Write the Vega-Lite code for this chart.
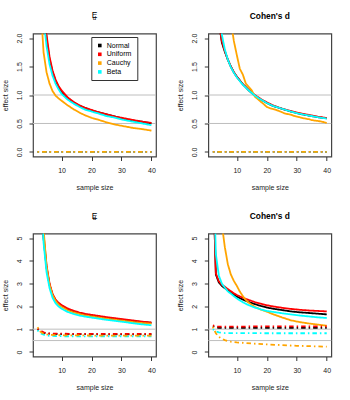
{
"$schema": "https://vega.github.io/schema/vega-lite/v6.json",
"padding": {"left": 0, "top": 10.5, "right": 0, "bottom": 0},
"background": "white",
"datasets": {
"tl": [
{"n":3,"v":3.6,"d":"Normal","t":"solid"},{"n":4,"v":2.6,"d":"Normal","t":"solid"},{"n":5,"v":1.98,"d":"Normal","t":"solid"},{"n":6,"v":1.62,"d":"Normal","t":"solid"},{"n":7,"v":1.4,"d":"Normal","t":"solid"},{"n":8,"v":1.25,"d":"Normal","t":"solid"},{"n":9,"v":1.14,"d":"Normal","t":"solid"},{"n":10,"v":1.06,"d":"Normal","t":"solid"},{"n":12,"v":0.95,"d":"Normal","t":"solid"},{"n":14,"v":0.87,"d":"Normal","t":"solid"},{"n":16,"v":0.81,"d":"Normal","t":"solid"},{"n":18,"v":0.77,"d":"Normal","t":"solid"},{"n":20,"v":0.73,"d":"Normal","t":"solid"},{"n":22,"v":0.7,"d":"Normal","t":"solid"},{"n":25,"v":0.66,"d":"Normal","t":"solid"},{"n":28,"v":0.62,"d":"Normal","t":"solid"},{"n":31,"v":0.58,"d":"Normal","t":"solid"},{"n":34,"v":0.55,"d":"Normal","t":"solid"},{"n":37,"v":0.53,"d":"Normal","t":"solid"},{"n":40,"v":0.5,"d":"Normal","t":"solid"},
{"n":3,"v":3.8,"d":"Uniform","t":"solid"},{"n":4,"v":2.75,"d":"Uniform","t":"solid"},{"n":5,"v":2.06,"d":"Uniform","t":"solid"},{"n":6,"v":1.67,"d":"Uniform","t":"solid"},{"n":7,"v":1.43,"d":"Uniform","t":"solid"},{"n":8,"v":1.27,"d":"Uniform","t":"solid"},{"n":9,"v":1.16,"d":"Uniform","t":"solid"},{"n":10,"v":1.08,"d":"Uniform","t":"solid"},{"n":12,"v":0.96,"d":"Uniform","t":"solid"},{"n":14,"v":0.88,"d":"Uniform","t":"solid"},{"n":16,"v":0.82,"d":"Uniform","t":"solid"},{"n":18,"v":0.77,"d":"Uniform","t":"solid"},{"n":20,"v":0.74,"d":"Uniform","t":"solid"},{"n":22,"v":0.7,"d":"Uniform","t":"solid"},{"n":25,"v":0.66,"d":"Uniform","t":"solid"},{"n":28,"v":0.62,"d":"Uniform","t":"solid"},{"n":31,"v":0.59,"d":"Uniform","t":"solid"},{"n":34,"v":0.56,"d":"Uniform","t":"solid"},{"n":37,"v":0.53,"d":"Uniform","t":"solid"},{"n":40,"v":0.51,"d":"Uniform","t":"solid"},
{"n":2,"v":4.0,"d":"Cauchy","t":"solid"},{"n":3,"v":2.6,"d":"Cauchy","t":"solid"},{"n":4,"v":1.75,"d":"Cauchy","t":"solid"},{"n":5,"v":1.4,"d":"Cauchy","t":"solid"},{"n":6,"v":1.2,"d":"Cauchy","t":"solid"},{"n":7,"v":1.07,"d":"Cauchy","t":"solid"},{"n":8,"v":0.99,"d":"Cauchy","t":"solid"},{"n":9,"v":0.94,"d":"Cauchy","t":"solid"},{"n":10,"v":0.9,"d":"Cauchy","t":"solid"},{"n":12,"v":0.82,"d":"Cauchy","t":"solid"},{"n":14,"v":0.75,"d":"Cauchy","t":"solid"},{"n":16,"v":0.69,"d":"Cauchy","t":"solid"},{"n":18,"v":0.64,"d":"Cauchy","t":"solid"},{"n":20,"v":0.6,"d":"Cauchy","t":"solid"},{"n":22,"v":0.57,"d":"Cauchy","t":"solid"},{"n":25,"v":0.52,"d":"Cauchy","t":"solid"},{"n":28,"v":0.48,"d":"Cauchy","t":"solid"},{"n":31,"v":0.45,"d":"Cauchy","t":"solid"},{"n":34,"v":0.42,"d":"Cauchy","t":"solid"},{"n":37,"v":0.4,"d":"Cauchy","t":"solid"},{"n":40,"v":0.375,"d":"Cauchy","t":"solid"},
{"n":3,"v":3.3,"d":"Beta","t":"solid"},{"n":4,"v":2.35,"d":"Beta","t":"solid"},{"n":5,"v":1.86,"d":"Beta","t":"solid"},{"n":6,"v":1.54,"d":"Beta","t":"solid"},{"n":7,"v":1.34,"d":"Beta","t":"solid"},{"n":8,"v":1.2,"d":"Beta","t":"solid"},{"n":9,"v":1.1,"d":"Beta","t":"solid"},{"n":10,"v":1.02,"d":"Beta","t":"solid"},{"n":12,"v":0.92,"d":"Beta","t":"solid"},{"n":14,"v":0.85,"d":"Beta","t":"solid"},{"n":16,"v":0.79,"d":"Beta","t":"solid"},{"n":18,"v":0.74,"d":"Beta","t":"solid"},{"n":20,"v":0.71,"d":"Beta","t":"solid"},{"n":22,"v":0.68,"d":"Beta","t":"solid"},{"n":25,"v":0.63,"d":"Beta","t":"solid"},{"n":28,"v":0.6,"d":"Beta","t":"solid"},{"n":31,"v":0.56,"d":"Beta","t":"solid"},{"n":34,"v":0.53,"d":"Beta","t":"solid"},{"n":37,"v":0.5,"d":"Beta","t":"solid"},{"n":40,"v":0.47,"d":"Beta","t":"solid"},
{"n":2,"v":0,"d":"Normal","t":"dashdot"},{"n":10,"v":0,"d":"Normal","t":"dashdot"},{"n":20,"v":0,"d":"Normal","t":"dashdot"},{"n":30,"v":0,"d":"Normal","t":"dashdot"},{"n":40,"v":0,"d":"Normal","t":"dashdot"},
{"n":2,"v":0,"d":"Uniform","t":"dashdot"},{"n":10,"v":0,"d":"Uniform","t":"dashdot"},{"n":20,"v":0,"d":"Uniform","t":"dashdot"},{"n":30,"v":0,"d":"Uniform","t":"dashdot"},{"n":40,"v":0,"d":"Uniform","t":"dashdot"},
{"n":2,"v":0,"d":"Beta","t":"dashdot"},{"n":10,"v":0,"d":"Beta","t":"dashdot"},{"n":20,"v":0,"d":"Beta","t":"dashdot"},{"n":30,"v":0,"d":"Beta","t":"dashdot"},{"n":40,"v":0,"d":"Beta","t":"dashdot"},
{"n":2,"v":0,"d":"Cauchy","t":"dashdot"},{"n":10,"v":0,"d":"Cauchy","t":"dashdot"},{"n":20,"v":0,"d":"Cauchy","t":"dashdot"},{"n":30,"v":0,"d":"Cauchy","t":"dashdot"},{"n":40,"v":0,"d":"Cauchy","t":"dashdot"}
],
"tr": [
{"n":3,"v":3.2,"d":"Normal","t":"solid"},{"n":4,"v":2.3,"d":"Normal","t":"solid"},{"n":5,"v":1.92,"d":"Normal","t":"solid"},{"n":6,"v":1.76,"d":"Normal","t":"solid"},{"n":7,"v":1.62,"d":"Normal","t":"solid"},{"n":8,"v":1.5,"d":"Normal","t":"solid"},{"n":9,"v":1.4,"d":"Normal","t":"solid"},{"n":10,"v":1.32,"d":"Normal","t":"solid"},{"n":12,"v":1.19,"d":"Normal","t":"solid"},{"n":14,"v":1.08,"d":"Normal","t":"solid"},{"n":16,"v":0.99,"d":"Normal","t":"solid"},{"n":18,"v":0.92,"d":"Normal","t":"solid"},{"n":20,"v":0.86,"d":"Normal","t":"solid"},{"n":22,"v":0.81,"d":"Normal","t":"solid"},{"n":25,"v":0.76,"d":"Normal","t":"solid"},{"n":28,"v":0.71,"d":"Normal","t":"solid"},{"n":31,"v":0.67,"d":"Normal","t":"solid"},{"n":34,"v":0.64,"d":"Normal","t":"solid"},{"n":37,"v":0.61,"d":"Normal","t":"solid"},{"n":40,"v":0.59,"d":"Normal","t":"solid"},
{"n":3,"v":3.0,"d":"Uniform","t":"solid"},{"n":4,"v":2.25,"d":"Uniform","t":"solid"},{"n":5,"v":1.95,"d":"Uniform","t":"solid"},{"n":6,"v":1.77,"d":"Uniform","t":"solid"},{"n":7,"v":1.62,"d":"Uniform","t":"solid"},{"n":8,"v":1.5,"d":"Uniform","t":"solid"},{"n":9,"v":1.4,"d":"Uniform","t":"solid"},{"n":10,"v":1.32,"d":"Uniform","t":"solid"},{"n":12,"v":1.19,"d":"Uniform","t":"solid"},{"n":14,"v":1.09,"d":"Uniform","t":"solid"},{"n":16,"v":1.0,"d":"Uniform","t":"solid"},{"n":18,"v":0.93,"d":"Uniform","t":"solid"},{"n":20,"v":0.87,"d":"Uniform","t":"solid"},{"n":22,"v":0.82,"d":"Uniform","t":"solid"},{"n":25,"v":0.76,"d":"Uniform","t":"solid"},{"n":28,"v":0.72,"d":"Uniform","t":"solid"},{"n":31,"v":0.68,"d":"Uniform","t":"solid"},{"n":34,"v":0.65,"d":"Uniform","t":"solid"},{"n":37,"v":0.62,"d":"Uniform","t":"solid"},{"n":40,"v":0.595,"d":"Uniform","t":"solid"},
{"n":6,"v":3.5,"d":"Cauchy","t":"solid"},{"n":7,"v":2.8,"d":"Cauchy","t":"solid"},{"n":8,"v":2.3,"d":"Cauchy","t":"solid"},{"n":9,"v":1.95,"d":"Cauchy","t":"solid"},{"n":10,"v":1.7,"d":"Cauchy","t":"solid"},{"n":11,"v":1.46,"d":"Cauchy","t":"solid"},{"n":12,"v":1.36,"d":"Cauchy","t":"solid"},{"n":13,"v":1.2,"d":"Cauchy","t":"solid"},{"n":14,"v":1.14,"d":"Cauchy","t":"solid"},{"n":15,"v":1.08,"d":"Cauchy","t":"solid"},{"n":16,"v":0.97,"d":"Cauchy","t":"solid"},{"n":17,"v":0.93,"d":"Cauchy","t":"solid"},{"n":18,"v":0.88,"d":"Cauchy","t":"solid"},{"n":19,"v":0.84,"d":"Cauchy","t":"solid"},{"n":20,"v":0.79,"d":"Cauchy","t":"solid"},{"n":21,"v":0.77,"d":"Cauchy","t":"solid"},{"n":22,"v":0.755,"d":"Cauchy","t":"solid"},{"n":23,"v":0.74,"d":"Cauchy","t":"solid"},{"n":24,"v":0.72,"d":"Cauchy","t":"solid"},{"n":25,"v":0.7,"d":"Cauchy","t":"solid"},{"n":26,"v":0.675,"d":"Cauchy","t":"solid"},{"n":27,"v":0.665,"d":"Cauchy","t":"solid"},{"n":28,"v":0.655,"d":"Cauchy","t":"solid"},{"n":29,"v":0.635,"d":"Cauchy","t":"solid"},{"n":30,"v":0.62,"d":"Cauchy","t":"solid"},{"n":31,"v":0.61,"d":"Cauchy","t":"solid"},{"n":32,"v":0.595,"d":"Cauchy","t":"solid"},{"n":33,"v":0.585,"d":"Cauchy","t":"solid"},{"n":34,"v":0.575,"d":"Cauchy","t":"solid"},{"n":35,"v":0.56,"d":"Cauchy","t":"solid"},{"n":36,"v":0.55,"d":"Cauchy","t":"solid"},{"n":37,"v":0.545,"d":"Cauchy","t":"solid"},{"n":38,"v":0.535,"d":"Cauchy","t":"solid"},{"n":39,"v":0.525,"d":"Cauchy","t":"solid"},{"n":40,"v":0.51,"d":"Cauchy","t":"solid"},
{"n":3,"v":3.6,"d":"Beta","t":"solid"},{"n":4,"v":2.6,"d":"Beta","t":"solid"},{"n":5,"v":2.06,"d":"Beta","t":"solid"},{"n":6,"v":1.8,"d":"Beta","t":"solid"},{"n":7,"v":1.62,"d":"Beta","t":"solid"},{"n":8,"v":1.49,"d":"Beta","t":"solid"},{"n":9,"v":1.39,"d":"Beta","t":"solid"},{"n":10,"v":1.31,"d":"Beta","t":"solid"},{"n":12,"v":1.18,"d":"Beta","t":"solid"},{"n":14,"v":1.08,"d":"Beta","t":"solid"},{"n":16,"v":0.99,"d":"Beta","t":"solid"},{"n":18,"v":0.92,"d":"Beta","t":"solid"},{"n":20,"v":0.86,"d":"Beta","t":"solid"},{"n":22,"v":0.81,"d":"Beta","t":"solid"},{"n":25,"v":0.76,"d":"Beta","t":"solid"},{"n":28,"v":0.71,"d":"Beta","t":"solid"},{"n":31,"v":0.67,"d":"Beta","t":"solid"},{"n":34,"v":0.64,"d":"Beta","t":"solid"},{"n":37,"v":0.61,"d":"Beta","t":"solid"},{"n":40,"v":0.585,"d":"Beta","t":"solid"},
{"n":2,"v":0,"d":"Normal","t":"dashdot"},{"n":10,"v":0,"d":"Normal","t":"dashdot"},{"n":20,"v":0,"d":"Normal","t":"dashdot"},{"n":30,"v":0,"d":"Normal","t":"dashdot"},{"n":40,"v":0,"d":"Normal","t":"dashdot"},
{"n":2,"v":0,"d":"Uniform","t":"dashdot"},{"n":10,"v":0,"d":"Uniform","t":"dashdot"},{"n":20,"v":0,"d":"Uniform","t":"dashdot"},{"n":30,"v":0,"d":"Uniform","t":"dashdot"},{"n":40,"v":0,"d":"Uniform","t":"dashdot"},
{"n":2,"v":0,"d":"Beta","t":"dashdot"},{"n":10,"v":0,"d":"Beta","t":"dashdot"},{"n":20,"v":0,"d":"Beta","t":"dashdot"},{"n":30,"v":0,"d":"Beta","t":"dashdot"},{"n":40,"v":0,"d":"Beta","t":"dashdot"},
{"n":2,"v":0,"d":"Cauchy","t":"dashdot"},{"n":10,"v":0,"d":"Cauchy","t":"dashdot"},{"n":20,"v":0,"d":"Cauchy","t":"dashdot"},{"n":30,"v":0,"d":"Cauchy","t":"dashdot"},{"n":40,"v":0,"d":"Cauchy","t":"dashdot"}
],
"bl": [
{"n":3,"v":8.0,"d":"Normal","t":"solid"},{"n":4,"v":5.0,"d":"Normal","t":"solid"},{"n":5,"v":3.7,"d":"Normal","t":"solid"},{"n":6,"v":2.95,"d":"Normal","t":"solid"},{"n":7,"v":2.5,"d":"Normal","t":"solid"},{"n":8,"v":2.27,"d":"Normal","t":"solid"},{"n":9,"v":2.13,"d":"Normal","t":"solid"},{"n":10,"v":2.03,"d":"Normal","t":"solid"},{"n":12,"v":1.88,"d":"Normal","t":"solid"},{"n":14,"v":1.78,"d":"Normal","t":"solid"},{"n":16,"v":1.7,"d":"Normal","t":"solid"},{"n":18,"v":1.64,"d":"Normal","t":"solid"},{"n":20,"v":1.6,"d":"Normal","t":"solid"},{"n":22,"v":1.56,"d":"Normal","t":"solid"},{"n":25,"v":1.5,"d":"Normal","t":"solid"},{"n":28,"v":1.45,"d":"Normal","t":"solid"},{"n":31,"v":1.4,"d":"Normal","t":"solid"},{"n":34,"v":1.35,"d":"Normal","t":"solid"},{"n":37,"v":1.31,"d":"Normal","t":"solid"},{"n":40,"v":1.28,"d":"Normal","t":"solid"},
{"n":3,"v":8.3,"d":"Uniform","t":"solid"},{"n":4,"v":5.2,"d":"Uniform","t":"solid"},{"n":5,"v":3.8,"d":"Uniform","t":"solid"},{"n":6,"v":3.0,"d":"Uniform","t":"solid"},{"n":7,"v":2.55,"d":"Uniform","t":"solid"},{"n":8,"v":2.3,"d":"Uniform","t":"solid"},{"n":9,"v":2.16,"d":"Uniform","t":"solid"},{"n":10,"v":2.06,"d":"Uniform","t":"solid"},{"n":12,"v":1.91,"d":"Uniform","t":"solid"},{"n":14,"v":1.81,"d":"Uniform","t":"solid"},{"n":16,"v":1.73,"d":"Uniform","t":"solid"},{"n":18,"v":1.67,"d":"Uniform","t":"solid"},{"n":20,"v":1.63,"d":"Uniform","t":"solid"},{"n":22,"v":1.59,"d":"Uniform","t":"solid"},{"n":25,"v":1.53,"d":"Uniform","t":"solid"},{"n":28,"v":1.48,"d":"Uniform","t":"solid"},{"n":31,"v":1.43,"d":"Uniform","t":"solid"},{"n":34,"v":1.38,"d":"Uniform","t":"solid"},{"n":37,"v":1.33,"d":"Uniform","t":"solid"},{"n":40,"v":1.29,"d":"Uniform","t":"solid"},
{"n":3,"v":9.0,"d":"Cauchy","t":"solid"},{"n":4,"v":5.4,"d":"Cauchy","t":"solid"},{"n":5,"v":3.75,"d":"Cauchy","t":"solid"},{"n":6,"v":2.95,"d":"Cauchy","t":"solid"},{"n":7,"v":2.5,"d":"Cauchy","t":"solid"},{"n":8,"v":2.24,"d":"Cauchy","t":"solid"},{"n":9,"v":2.08,"d":"Cauchy","t":"solid"},{"n":10,"v":1.98,"d":"Cauchy","t":"solid"},{"n":12,"v":1.83,"d":"Cauchy","t":"solid"},{"n":14,"v":1.73,"d":"Cauchy","t":"solid"},{"n":16,"v":1.66,"d":"Cauchy","t":"solid"},{"n":18,"v":1.6,"d":"Cauchy","t":"solid"},{"n":20,"v":1.56,"d":"Cauchy","t":"solid"},{"n":22,"v":1.52,"d":"Cauchy","t":"solid"},{"n":25,"v":1.46,"d":"Cauchy","t":"solid"},{"n":28,"v":1.41,"d":"Cauchy","t":"solid"},{"n":31,"v":1.36,"d":"Cauchy","t":"solid"},{"n":34,"v":1.31,"d":"Cauchy","t":"solid"},{"n":37,"v":1.27,"d":"Cauchy","t":"solid"},{"n":40,"v":1.24,"d":"Cauchy","t":"solid"},
{"n":3,"v":7.6,"d":"Beta","t":"solid"},{"n":4,"v":4.8,"d":"Beta","t":"solid"},{"n":5,"v":3.5,"d":"Beta","t":"solid"},{"n":6,"v":2.8,"d":"Beta","t":"solid"},{"n":7,"v":2.38,"d":"Beta","t":"solid"},{"n":8,"v":2.14,"d":"Beta","t":"solid"},{"n":9,"v":2.0,"d":"Beta","t":"solid"},{"n":10,"v":1.9,"d":"Beta","t":"solid"},{"n":12,"v":1.76,"d":"Beta","t":"solid"},{"n":14,"v":1.67,"d":"Beta","t":"solid"},{"n":16,"v":1.6,"d":"Beta","t":"solid"},{"n":18,"v":1.55,"d":"Beta","t":"solid"},{"n":20,"v":1.51,"d":"Beta","t":"solid"},{"n":22,"v":1.47,"d":"Beta","t":"solid"},{"n":25,"v":1.41,"d":"Beta","t":"solid"},{"n":28,"v":1.36,"d":"Beta","t":"solid"},{"n":31,"v":1.31,"d":"Beta","t":"solid"},{"n":34,"v":1.26,"d":"Beta","t":"solid"},{"n":37,"v":1.21,"d":"Beta","t":"solid"},{"n":40,"v":1.17,"d":"Beta","t":"solid"},
{"n":2,"v":1.0,"d":"Normal","t":"dashdot"},{"n":3,"v":0.9,"d":"Normal","t":"dashdot"},{"n":4,"v":0.84,"d":"Normal","t":"dashdot"},{"n":5,"v":0.81,"d":"Normal","t":"dashdot"},{"n":6,"v":0.8,"d":"Normal","t":"dashdot"},{"n":8,"v":0.79,"d":"Normal","t":"dashdot"},{"n":10,"v":0.78,"d":"Normal","t":"dashdot"},{"n":15,"v":0.78,"d":"Normal","t":"dashdot"},{"n":20,"v":0.78,"d":"Normal","t":"dashdot"},{"n":25,"v":0.77,"d":"Normal","t":"dashdot"},{"n":30,"v":0.77,"d":"Normal","t":"dashdot"},{"n":35,"v":0.77,"d":"Normal","t":"dashdot"},{"n":40,"v":0.77,"d":"Normal","t":"dashdot"},
{"n":2,"v":1.02,"d":"Uniform","t":"dashdot"},{"n":3,"v":0.93,"d":"Uniform","t":"dashdot"},{"n":4,"v":0.86,"d":"Uniform","t":"dashdot"},{"n":5,"v":0.83,"d":"Uniform","t":"dashdot"},{"n":6,"v":0.81,"d":"Uniform","t":"dashdot"},{"n":8,"v":0.8,"d":"Uniform","t":"dashdot"},{"n":10,"v":0.8,"d":"Uniform","t":"dashdot"},{"n":15,"v":0.79,"d":"Uniform","t":"dashdot"},{"n":20,"v":0.79,"d":"Uniform","t":"dashdot"},{"n":25,"v":0.79,"d":"Uniform","t":"dashdot"},{"n":30,"v":0.79,"d":"Uniform","t":"dashdot"},{"n":35,"v":0.79,"d":"Uniform","t":"dashdot"},{"n":40,"v":0.79,"d":"Uniform","t":"dashdot"},
{"n":2,"v":0.95,"d":"Beta","t":"dashdot"},{"n":3,"v":0.82,"d":"Beta","t":"dashdot"},{"n":4,"v":0.76,"d":"Beta","t":"dashdot"},{"n":5,"v":0.73,"d":"Beta","t":"dashdot"},{"n":6,"v":0.71,"d":"Beta","t":"dashdot"},{"n":8,"v":0.7,"d":"Beta","t":"dashdot"},{"n":10,"v":0.69,"d":"Beta","t":"dashdot"},{"n":15,"v":0.69,"d":"Beta","t":"dashdot"},{"n":20,"v":0.68,"d":"Beta","t":"dashdot"},{"n":25,"v":0.68,"d":"Beta","t":"dashdot"},{"n":30,"v":0.68,"d":"Beta","t":"dashdot"},{"n":35,"v":0.68,"d":"Beta","t":"dashdot"},{"n":40,"v":0.68,"d":"Beta","t":"dashdot"},
{"n":2,"v":1.08,"d":"Cauchy","t":"dashdot"},{"n":3,"v":0.88,"d":"Cauchy","t":"dashdot"},{"n":4,"v":0.8,"d":"Cauchy","t":"dashdot"},{"n":5,"v":0.77,"d":"Cauchy","t":"dashdot"},{"n":6,"v":0.75,"d":"Cauchy","t":"dashdot"},{"n":8,"v":0.74,"d":"Cauchy","t":"dashdot"},{"n":10,"v":0.73,"d":"Cauchy","t":"dashdot"},{"n":15,"v":0.73,"d":"Cauchy","t":"dashdot"},{"n":20,"v":0.72,"d":"Cauchy","t":"dashdot"},{"n":25,"v":0.72,"d":"Cauchy","t":"dashdot"},{"n":30,"v":0.72,"d":"Cauchy","t":"dashdot"},{"n":35,"v":0.72,"d":"Cauchy","t":"dashdot"},{"n":40,"v":0.72,"d":"Cauchy","t":"dashdot"}
],
"br": [
{"n":2,"v":8.0,"d":"Normal","t":"solid"},{"n":3,"v":3.4,"d":"Normal","t":"solid"},{"n":4,"v":3.05,"d":"Normal","t":"solid"},{"n":5,"v":2.9,"d":"Normal","t":"solid"},{"n":6,"v":2.8,"d":"Normal","t":"solid"},{"n":7,"v":2.7,"d":"Normal","t":"solid"},{"n":8,"v":2.6,"d":"Normal","t":"solid"},{"n":9,"v":2.51,"d":"Normal","t":"solid"},{"n":10,"v":2.43,"d":"Normal","t":"solid"},{"n":12,"v":2.3,"d":"Normal","t":"solid"},{"n":14,"v":2.19,"d":"Normal","t":"solid"},{"n":16,"v":2.1,"d":"Normal","t":"solid"},{"n":18,"v":2.02,"d":"Normal","t":"solid"},{"n":20,"v":1.95,"d":"Normal","t":"solid"},{"n":22,"v":1.9,"d":"Normal","t":"solid"},{"n":25,"v":1.84,"d":"Normal","t":"solid"},{"n":28,"v":1.78,"d":"Normal","t":"solid"},{"n":31,"v":1.74,"d":"Normal","t":"solid"},{"n":34,"v":1.71,"d":"Normal","t":"solid"},{"n":37,"v":1.68,"d":"Normal","t":"solid"},{"n":40,"v":1.65,"d":"Normal","t":"solid"},
{"n":2,"v":8.0,"d":"Uniform","t":"solid"},{"n":3,"v":3.45,"d":"Uniform","t":"solid"},{"n":4,"v":3.1,"d":"Uniform","t":"solid"},{"n":5,"v":2.95,"d":"Uniform","t":"solid"},{"n":6,"v":2.86,"d":"Uniform","t":"solid"},{"n":7,"v":2.76,"d":"Uniform","t":"solid"},{"n":8,"v":2.67,"d":"Uniform","t":"solid"},{"n":9,"v":2.58,"d":"Uniform","t":"solid"},{"n":10,"v":2.5,"d":"Uniform","t":"solid"},{"n":12,"v":2.38,"d":"Uniform","t":"solid"},{"n":14,"v":2.28,"d":"Uniform","t":"solid"},{"n":16,"v":2.19,"d":"Uniform","t":"solid"},{"n":18,"v":2.12,"d":"Uniform","t":"solid"},{"n":20,"v":2.05,"d":"Uniform","t":"solid"},{"n":22,"v":2.0,"d":"Uniform","t":"solid"},{"n":25,"v":1.94,"d":"Uniform","t":"solid"},{"n":28,"v":1.89,"d":"Uniform","t":"solid"},{"n":31,"v":1.85,"d":"Uniform","t":"solid"},{"n":34,"v":1.82,"d":"Uniform","t":"solid"},{"n":37,"v":1.8,"d":"Uniform","t":"solid"},{"n":40,"v":1.78,"d":"Uniform","t":"solid"},
{"n":4,"v":7.5,"d":"Cauchy","t":"solid"},{"n":5,"v":5.6,"d":"Cauchy","t":"solid"},{"n":6,"v":4.6,"d":"Cauchy","t":"solid"},{"n":7,"v":3.85,"d":"Cauchy","t":"solid"},{"n":8,"v":3.4,"d":"Cauchy","t":"solid"},{"n":9,"v":3.12,"d":"Cauchy","t":"solid"},{"n":10,"v":2.9,"d":"Cauchy","t":"solid"},{"n":11,"v":2.65,"d":"Cauchy","t":"solid"},{"n":12,"v":2.45,"d":"Cauchy","t":"solid"},{"n":13,"v":2.28,"d":"Cauchy","t":"solid"},{"n":14,"v":2.16,"d":"Cauchy","t":"solid"},{"n":16,"v":1.98,"d":"Cauchy","t":"solid"},{"n":18,"v":1.86,"d":"Cauchy","t":"solid"},{"n":20,"v":1.77,"d":"Cauchy","t":"solid"},{"n":22,"v":1.66,"d":"Cauchy","t":"solid"},{"n":25,"v":1.52,"d":"Cauchy","t":"solid"},{"n":28,"v":1.39,"d":"Cauchy","t":"solid"},{"n":31,"v":1.31,"d":"Cauchy","t":"solid"},{"n":34,"v":1.25,"d":"Cauchy","t":"solid"},{"n":37,"v":1.2,"d":"Cauchy","t":"solid"},{"n":40,"v":1.15,"d":"Cauchy","t":"solid"},
{"n":2,"v":9.0,"d":"Beta","t":"solid"},{"n":3,"v":4.3,"d":"Beta","t":"solid"},{"n":4,"v":3.35,"d":"Beta","t":"solid"},{"n":5,"v":3.0,"d":"Beta","t":"solid"},{"n":6,"v":2.82,"d":"Beta","t":"solid"},{"n":7,"v":2.66,"d":"Beta","t":"solid"},{"n":8,"v":2.56,"d":"Beta","t":"solid"},{"n":9,"v":2.45,"d":"Beta","t":"solid"},{"n":10,"v":2.35,"d":"Beta","t":"solid"},{"n":12,"v":2.18,"d":"Beta","t":"solid"},{"n":14,"v":2.05,"d":"Beta","t":"solid"},{"n":16,"v":1.95,"d":"Beta","t":"solid"},{"n":18,"v":1.87,"d":"Beta","t":"solid"},{"n":20,"v":1.8,"d":"Beta","t":"solid"},{"n":22,"v":1.76,"d":"Beta","t":"solid"},{"n":25,"v":1.7,"d":"Beta","t":"solid"},{"n":28,"v":1.65,"d":"Beta","t":"solid"},{"n":31,"v":1.6,"d":"Beta","t":"solid"},{"n":34,"v":1.56,"d":"Beta","t":"solid"},{"n":37,"v":1.52,"d":"Beta","t":"solid"},{"n":40,"v":1.49,"d":"Beta","t":"solid"},
{"n":2,"v":1.12,"d":"Normal","t":"dashdot"},{"n":3,"v":1.07,"d":"Normal","t":"dashdot"},{"n":4,"v":1.06,"d":"Normal","t":"dashdot"},{"n":6,"v":1.06,"d":"Normal","t":"dashdot"},{"n":10,"v":1.06,"d":"Normal","t":"dashdot"},{"n":15,"v":1.06,"d":"Normal","t":"dashdot"},{"n":20,"v":1.06,"d":"Normal","t":"dashdot"},{"n":25,"v":1.06,"d":"Normal","t":"dashdot"},{"n":30,"v":1.06,"d":"Normal","t":"dashdot"},{"n":35,"v":1.06,"d":"Normal","t":"dashdot"},{"n":40,"v":1.06,"d":"Normal","t":"dashdot"},
{"n":2,"v":1.17,"d":"Uniform","t":"dashdot"},{"n":3,"v":1.12,"d":"Uniform","t":"dashdot"},{"n":4,"v":1.11,"d":"Uniform","t":"dashdot"},{"n":6,"v":1.11,"d":"Uniform","t":"dashdot"},{"n":10,"v":1.11,"d":"Uniform","t":"dashdot"},{"n":15,"v":1.12,"d":"Uniform","t":"dashdot"},{"n":20,"v":1.12,"d":"Uniform","t":"dashdot"},{"n":25,"v":1.12,"d":"Uniform","t":"dashdot"},{"n":30,"v":1.12,"d":"Uniform","t":"dashdot"},{"n":35,"v":1.12,"d":"Uniform","t":"dashdot"},{"n":40,"v":1.12,"d":"Uniform","t":"dashdot"},
{"n":2,"v":1.0,"d":"Beta","t":"dashdot"},{"n":3,"v":0.9,"d":"Beta","t":"dashdot"},{"n":4,"v":0.86,"d":"Beta","t":"dashdot"},{"n":5,"v":0.84,"d":"Beta","t":"dashdot"},{"n":6,"v":0.83,"d":"Beta","t":"dashdot"},{"n":10,"v":0.83,"d":"Beta","t":"dashdot"},{"n":15,"v":0.83,"d":"Beta","t":"dashdot"},{"n":20,"v":0.82,"d":"Beta","t":"dashdot"},{"n":25,"v":0.82,"d":"Beta","t":"dashdot"},{"n":30,"v":0.82,"d":"Beta","t":"dashdot"},{"n":35,"v":0.82,"d":"Beta","t":"dashdot"},{"n":40,"v":0.82,"d":"Beta","t":"dashdot"},
{"n":2,"v":1.1,"d":"Cauchy","t":"dashdot"},{"n":3,"v":0.82,"d":"Cauchy","t":"dashdot"},{"n":4,"v":0.66,"d":"Cauchy","t":"dashdot"},{"n":5,"v":0.58,"d":"Cauchy","t":"dashdot"},{"n":6,"v":0.52,"d":"Cauchy","t":"dashdot"},{"n":7,"v":0.48,"d":"Cauchy","t":"dashdot"},{"n":8,"v":0.45,"d":"Cauchy","t":"dashdot"},{"n":10,"v":0.42,"d":"Cauchy","t":"dashdot"},{"n":12,"v":0.4,"d":"Cauchy","t":"dashdot"},{"n":15,"v":0.37,"d":"Cauchy","t":"dashdot"},{"n":20,"v":0.33,"d":"Cauchy","t":"dashdot"},{"n":25,"v":0.3,"d":"Cauchy","t":"dashdot"},{"n":30,"v":0.27,"d":"Cauchy","t":"dashdot"},{"n":35,"v":0.25,"d":"Cauchy","t":"dashdot"},{"n":40,"v":0.23,"d":"Cauchy","t":"dashdot"}
],
"refs": [{"h":1},{"h":0.5}]
},
"columns": 2,
"spacing": {"column": 52.3, "row": 77},
"bounds": "flush",
"resolve": {"legend": {"color": "independent"}},
"concat": [
{
"width": 123, "height": 123,
"title": {"text": "E\u00a0", "subtitle": "\u00a0\u00a0\u00a0\u00a0d", "font": "Liberation Sans", "fontSize": 8.4, "fontWeight": "normal", "subtitleFont": "Liberation Sans", "subtitleFontSize": 6, "subtitleColor": "black", "subtitlePadding": -5, "offset": 12.5},
"layer": [
{"data": {"name": "refs"}, "mark": {"type": "rule", "color": "#BEBEBE", "strokeWidth": 1},
 "encoding": {"y": {"field": "h", "type": "quantitative", "scale": {"domain": [-0.08, 2.08], "nice": false, "zero": false}, "axis": {"values": [0, 0.5, 1, 1.5, 2], "format": ".1f", "title": "effect size"}}}},
{"data": {"name": "tl"}, "mark": {"type": "line", "clip": true, "strokeWidth": 1.8},
 "encoding": {
  "x": {"field": "n", "type": "quantitative", "scale": {"domain": [0.48, 41.52], "nice": false, "zero": false}, "axis": {"values": [10, 20, 30, 40], "title": "sample size"}},
  "y": {"field": "v", "type": "quantitative", "scale": {"domain": [-0.08, 2.08], "nice": false, "zero": false}, "axis": {"values": [0, 0.5, 1, 1.5, 2], "format": ".1f", "title": "effect size"}},
  "color": {"field": "d", "type": "nominal", "scale": {"domain": ["Normal", "Uniform", "Cauchy", "Beta"], "range": ["#000000", "#FF0000", "#FFA500", "#00FFFF"]},
   "legend": {"orient": "none", "legendX": 58.3, "legendY": 3.5, "title": null, "labelFontSize": 7, "labelFont": "Liberation Sans", "labelColor": "black", "rowPadding": 0.8, "padding": 5, "labelOffset": 3.5, "strokeColor": "#333", "fillColor": "white",
    "encode": {"symbols": {"update": {"shape": {"value": "square"}, "size": {"value": 13}, "fill": {"scale": "color", "field": "value"}, "stroke": {"value": "transparent"}, "strokeWidth": {"value": 0}, "strokeDash": {"value": [1, 0]}, "opacity": {"value": 1}}}}}},
  "strokeDash": {"field": "t", "type": "nominal", "scale": {"domain": ["solid", "dashdot"], "range": [[1, 0], [1.5, 3, 4.5, 3]]}, "legend": null}
 }}
]
},
{
"width": 123, "height": 123,
"title": {"text": "Cohen's d", "font": "Liberation Sans", "fontSize": 8.4, "fontWeight": "bold", "offset": 12.8},
"layer": [
{"data": {"name": "refs"}, "mark": {"type": "rule", "color": "#BEBEBE", "strokeWidth": 1},
 "encoding": {"y": {"field": "h", "type": "quantitative", "scale": {"domain": [-0.08, 2.08], "nice": false, "zero": false}, "axis": {"values": [0, 0.5, 1, 1.5, 2], "format": ".1f", "title": "effect size"}}}},
{"data": {"name": "tr"}, "mark": {"type": "line", "clip": true, "strokeWidth": 1.8},
 "encoding": {
  "x": {"field": "n", "type": "quantitative", "scale": {"domain": [0.48, 41.52], "nice": false, "zero": false}, "axis": {"values": [10, 20, 30, 40], "title": "sample size"}},
  "y": {"field": "v", "type": "quantitative", "scale": {"domain": [-0.08, 2.08], "nice": false, "zero": false}, "axis": {"values": [0, 0.5, 1, 1.5, 2], "format": ".1f", "title": "effect size"}},
  "color": {"field": "d", "type": "nominal", "scale": {"domain": ["Normal", "Uniform", "Cauchy", "Beta"], "range": ["#000000", "#FF0000", "#FFA500", "#00FFFF"]}, "legend": null},
  "strokeDash": {"field": "t", "type": "nominal", "scale": {"domain": ["solid", "dashdot"], "range": [[1, 0], [1.5, 3, 4.5, 3]]}, "legend": null}
 }}
]
},
{
"width": 123, "height": 123,
"title": {"text": "E\u00a0", "subtitle": "\u00a0\u00a0\u00a0\u00a0d", "font": "Liberation Sans", "fontSize": 8.4, "fontWeight": "normal", "subtitleFont": "Liberation Sans", "subtitleFontSize": 6, "subtitleColor": "black", "subtitlePadding": -5, "offset": 12.5},
"layer": [
{"data": {"name": "refs"}, "mark": {"type": "rule", "color": "#BEBEBE", "strokeWidth": 1},
 "encoding": {"y": {"field": "h", "type": "quantitative", "scale": {"domain": [-0.2, 5.2], "nice": false, "zero": false}, "axis": {"values": [0, 1, 2, 3, 4, 5], "format": "d", "title": "effect size"}}}},
{"data": {"name": "bl"}, "mark": {"type": "line", "clip": true, "strokeWidth": 1.8},
 "encoding": {
  "x": {"field": "n", "type": "quantitative", "scale": {"domain": [0.48, 41.52], "nice": false, "zero": false}, "axis": {"values": [10, 20, 30, 40], "title": "sample size"}},
  "y": {"field": "v", "type": "quantitative", "scale": {"domain": [-0.2, 5.2], "nice": false, "zero": false}, "axis": {"values": [0, 1, 2, 3, 4, 5], "format": "d", "title": "effect size"}},
  "color": {"field": "d", "type": "nominal", "scale": {"domain": ["Normal", "Uniform", "Cauchy", "Beta"], "range": ["#000000", "#FF0000", "#FFA500", "#00FFFF"]}, "legend": null},
  "strokeDash": {"field": "t", "type": "nominal", "scale": {"domain": ["solid", "dashdot"], "range": [[1, 0], [1.5, 3, 4.5, 3]]}, "legend": null}
 }}
]
},
{
"width": 123, "height": 123,
"title": {"text": "Cohen's d", "font": "Liberation Sans", "fontSize": 8.4, "fontWeight": "bold", "offset": 12.8},
"layer": [
{"data": {"name": "refs"}, "mark": {"type": "rule", "color": "#BEBEBE", "strokeWidth": 1},
 "encoding": {"y": {"field": "h", "type": "quantitative", "scale": {"domain": [-0.2, 5.2], "nice": false, "zero": false}, "axis": {"values": [0, 1, 2, 3, 4, 5], "format": "d", "title": "effect size"}}}},
{"data": {"name": "br"}, "mark": {"type": "line", "clip": true, "strokeWidth": 1.8},
 "encoding": {
  "x": {"field": "n", "type": "quantitative", "scale": {"domain": [0.48, 41.52], "nice": false, "zero": false}, "axis": {"values": [10, 20, 30, 40], "title": "sample size"}},
  "y": {"field": "v", "type": "quantitative", "scale": {"domain": [-0.2, 5.2], "nice": false, "zero": false}, "axis": {"values": [0, 1, 2, 3, 4, 5], "format": "d", "title": "effect size"}},
  "color": {"field": "d", "type": "nominal", "scale": {"domain": ["Normal", "Uniform", "Cauchy", "Beta"], "range": ["#000000", "#FF0000", "#FFA500", "#00FFFF"]}, "legend": null},
  "strokeDash": {"field": "t", "type": "nominal", "scale": {"domain": ["solid", "dashdot"], "range": [[1, 0], [1.5, 3, 4.5, 3]]}, "legend": null}
 }}
]
}
],
"config": {
 "view": {"stroke": "#444", "strokeWidth": 1.2},
 "font": "Liberation Sans",
 "axis": {"domain": false, "grid": false, "ticks": true, "tickSize": 4, "tickColor": "#333", "tickWidth": 1, "labelFont": "Liberation Sans", "labelFontSize": 7, "labelColor": "#222", "titleFont": "Liberation Sans", "titleFontSize": 7, "titleFontWeight": "normal", "titleColor": "#222"},
 "axisX": {"labelPadding": 6, "titleX": 61.5, "titleY": 33, "titleBaseline": "alphabetic", "titleAlign": "center"},
 "axisY": {"labelAngle": 270, "labelAlign": "center", "labelBaseline": "bottom", "labelPadding": 7, "titleX": -25.5, "titleY": 61.5, "titleAngle": 270, "titleBaseline": "alphabetic", "titleAlign": "center"},
 "title": {"anchor": "middle", "color": "black"}
}
}
